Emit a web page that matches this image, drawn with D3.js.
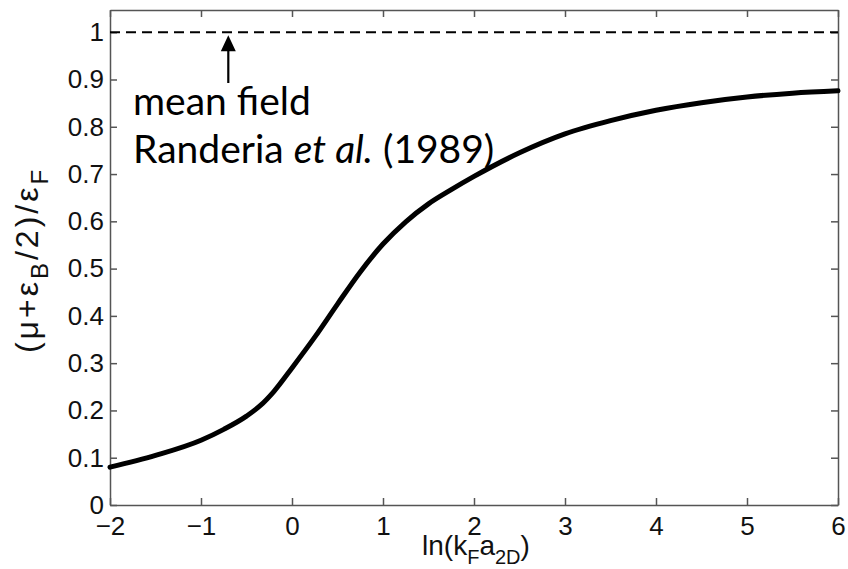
<!DOCTYPE html>
<html>
<head>
<meta charset="utf-8">
<script src="https://cdn.jsdelivr.net/npm/d3@7"></script>
<style>
  body { margin: 0; background: #fff; }
  svg { display: block; }
  .note { font-family: Lato, "Open Sans", sans-serif; font-size: 39px; fill: #000; }
</style>
</head>
<body>
<div id="chart"></div>
<script>
// Data
const xVals = [-2, -1.5, -1, -0.75, -0.5, -0.35, -0.2, 0, 0.25, 0.5, 0.75, 1, 1.25, 1.5, 1.75, 2, 2.5, 3, 3.5, 4, 4.5, 5, 5.5, 6];
const yVals = [0.080, 0.105, 0.137, 0.160, 0.188, 0.210, 0.240, 0.290, 0.355, 0.425, 0.493, 0.552, 0.599, 0.637, 0.667, 0.695, 0.745, 0.785, 0.813, 0.835, 0.851, 0.863, 0.871, 0.876];
const meanField = 1;
const xTicks = [-2, -1, 0, 1, 2, 3, 4, 5, 6];
const yTicks = [0, 0.1, 0.2, 0.3, 0.4, 0.5, 0.6, 0.7, 0.8, 0.9, 1];
const arrowX = -0.7;

const margin = { top: 10, right: 10, bottom: 64, left: 110 };
const width = 848 - margin.left - margin.right;
const height = 569 - margin.top - margin.bottom;

const svg = d3.select("#chart")
  .append("svg")
  .attr("width", 848)
  .attr("height", 569)
  .append("g")
  .attr("transform", `translate(${margin.left}, ${margin.top})`);

const x = d3.scaleLinear().domain([-2, 6]).range([0, width]);
const y = d3.scaleLinear().domain([0, 1.047]).range([height, 0]);

const fmtX = d => (d < 0 ? "\u2212" + Math.abs(d) : String(d));
const fmtY = d => (d === 0 || d === 1 ? String(d) : d3.format(".1f")(d));

// axes (box with inward ticks)
const axisStyle = g => {
  g.select(".domain").attr("stroke", "#555").attr("stroke-width", 1.5);
  g.selectAll(".tick line").attr("stroke", "#555").attr("stroke-width", 1.5);
  g.selectAll(".tick text")
    .style("font-family", "Liberation Sans, Arial, sans-serif")
    .style("font-size", "26px")
    .attr("fill", "#111");
};

svg.append("g")
  .attr("transform", `translate(0, ${height})`)
  .call(d3.axisBottom(x).tickValues(xTicks).tickFormat(fmtX).tickSizeInner(-7).tickSizeOuter(0).tickPadding(12))
  .call(axisStyle);

svg.append("g")
  .call(d3.axisTop(x).tickValues(xTicks).tickFormat("").tickSizeInner(-7).tickSizeOuter(0))
  .call(axisStyle);

svg.append("g")
  .call(d3.axisLeft(y).tickValues(yTicks).tickFormat(fmtY).tickSizeInner(-7).tickSizeOuter(0).tickPadding(6))
  .call(axisStyle);

svg.append("g")
  .attr("transform", `translate(${width}, 0)`)
  .call(d3.axisRight(y).tickValues(yTicks).tickFormat("").tickSizeInner(-7).tickSizeOuter(0))
  .call(axisStyle);

// dashed mean-field line
svg.append("line")
  .attr("x1", x(-2)).attr("x2", x(6))
  .attr("y1", y(meanField)).attr("y2", y(meanField))
  .attr("stroke", "#000")
  .attr("stroke-width", 2)
  .attr("stroke-dasharray", "10,6");

// main curve
const pts = xVals.map((d, i) => [d, yVals[i]]);
svg.append("path")
  .datum(pts)
  .attr("fill", "none")
  .attr("stroke", "#000")
  .attr("stroke-width", 5)
  .attr("stroke-linecap", "round")
  .attr("d", d3.line().x(d => x(d[0])).y(d => y(d[1])).curve(d3.curveMonotoneX));

// arrow
const ax = x(arrowX);
svg.append("line")
  .attr("x1", ax).attr("x2", ax)
  .attr("y1", 73).attr("y2", 38)
  .attr("stroke", "#000").attr("stroke-width", 2.2);
svg.append("path")
  .attr("d", `M${ax},${y(meanField) + 3} L${ax - 7.5},${y(meanField) + 19} L${ax + 7.5},${y(meanField) + 19} Z`)
  .attr("fill", "#000");

// annotation
svg.append("text").attr("class", "note")
  .attr("x", 23).attr("y", 105)
  .text("mean field");
const ref = svg.append("text").attr("class", "note")
  .attr("x", 23).attr("y", 153);
ref.append("tspan").text("Randeria ");
ref.append("tspan").attr("font-style", "italic").text("et al.");
ref.append("tspan").text("  (1989)");

// x label
const xl = svg.append("text")
  .attr("x", width / 2 + 2)
  .attr("y", height + 50)
  .attr("text-anchor", "middle")
  .style("font-family", "Liberation Sans, Arial, sans-serif")
  .style("font-size", "28px")
  .attr("fill", "#111");
xl.append("tspan").text("ln(k");
xl.append("tspan").attr("dy", 9).style("font-size", "20px").text("F");
xl.append("tspan").attr("dy", -9).text("a");
xl.append("tspan").attr("dy", 9).style("font-size", "20px").text("2D");
xl.append("tspan").attr("dy", -9).text(")");

// y label
const yl = svg.append("text")
  .attr("transform", `translate(${38 - margin.left}, ${250}) rotate(-90)`)
  .attr("text-anchor", "middle")
  .style("font-family", "Liberation Sans, Arial, sans-serif")
  .style("font-size", "32px")
  .style("letter-spacing", "3px")
  .attr("fill", "#111");
yl.append("tspan").text("(\u03bc+\u03b5");
yl.append("tspan").attr("dy", 10).style("font-size", "24px").text("B");
yl.append("tspan").attr("dy", -10).text("/2)/\u03b5");
yl.append("tspan").attr("dy", 10).style("font-size", "24px").text("F");
</script>
</body>
</html>
